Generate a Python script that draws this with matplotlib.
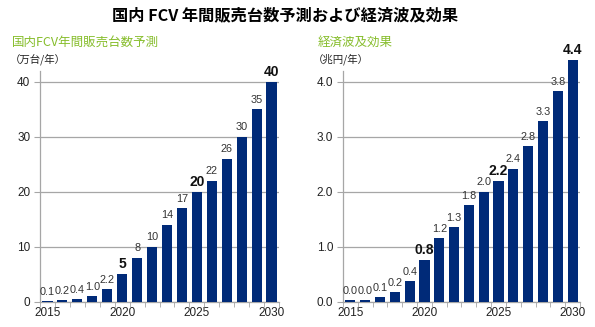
import matplotlib
matplotlib.use("Agg")
import matplotlib.pyplot as plt
from matplotlib.ticker import FixedLocator

plt.rcParams['font.family'] = ['Liberation Sans', 'Noto Sans CJK JP', 'DejaVu Sans']

years = list(range(2015, 2031))
fcv_values = [0.1, 0.2, 0.4, 1.0, 2.2, 5, 8, 10, 14, 17, 20, 22, 26, 30, 35, 40]
fcv_labels = ["0.1", "0.2", "0.4", "1.0", "2.2", "5", "8", "10", "14", "17", "20", "22", "26", "30", "35", "40"]
fcv_bold = [5, 10, 15]
eco_values = [0.02, 0.03, 0.08, 0.17, 0.37, 0.76, 1.16, 1.35, 1.76, 2.0, 2.2, 2.42, 2.83, 3.28, 3.83, 4.4]
eco_labels = ["0.0", "0.0", "0.1", "0.2", "0.4", "0.8", "1.2", "1.3", "1.8", "2.0", "2.2", "2.4", "2.8", "3.3", "3.8", "4.4"]
eco_bold = [5, 10, 15]
xtick_years = [2015, 2020, 2025, 2030]

title = "国内 FCV 年間販売台数予測および経済波及効果"
sub_left = "国内FCV年間販売台数予測"
sub_right = "経済波及効果"
unit_left = "（万台/年）"
unit_right = "（兆円/年）"
yticks_left = [0, 10, 20, 30, 40]
yticks_right = [0.0, 1.0, 2.0, 3.0, 4.0]

BAR = '#002a78'
GRID = '#a6a6a6'
GREEN = '#86bd2b'
W, H = 595, 327
fig = plt.figure(figsize=(W / 100, H / 100), dpi=100)

def panel(x0, x1, values, labels, bold, yticks, ytl, ytop):
    ax = fig.add_axes([x0 / W, (H - 301.5) / H, (x1 - x0) / W, (301.5 - 71) / H])
    xs = list(range(len(values)))
    bars = ax.bar(xs, values, width=0.68, color=BAR, zorder=3)
    for b in bars:
        b.set_clip_on(False)
    ax.set_xlim(-0.5, len(values) - 0.5)
    ax.set_ylim(0, ytop)
    ax.set_yticks(yticks)
    ax.set_yticklabels(ytl, fontsize=8.5, color='#222222')
    ax.yaxis.grid(True, color=GRID, linewidth=0.9, zorder=1)
    ax.tick_params(axis='y', length=4, color=GRID, pad=3)
    pos = [years.index(y) for y in xtick_years]
    ax.set_xticks(pos)
    ax.set_xticklabels([str(y) for y in xtick_years], fontsize=8.5, color='#222222')
    ax.tick_params(axis='x', length=0, pad=4)
    ax.xaxis.set_minor_locator(FixedLocator([i - 0.5 for i in range(len(values) + 1)]))
    ax.tick_params(axis='x', which='minor', length=3.5, color=GRID)
    for s in ['top', 'right']:
        ax.spines[s].set_visible(False)
    for s in ['left', 'bottom']:
        ax.spines[s].set_color(GRID)
        ax.spines[s].set_linewidth(0.9)
    for i, (v, t) in enumerate(zip(values, labels)):
        if i in bold:
            ax.annotate(t, (i, v), xytext=(0, 2), textcoords='offset points',
                        ha='center', va='bottom', fontsize=10, fontweight='bold', color='#111111',
                        annotation_clip=False)
        else:
            ax.annotate(t, (i, v), xytext=(0, 3), textcoords='offset points',
                        ha='center', va='bottom', fontsize=7.8, color='#333333',
                        annotation_clip=False)
    return ax

panel(40, 279, fcv_values, fcv_labels, fcv_bold, yticks_left, [str(v) for v in yticks_left], 41.95)
panel(343, 580, eco_values, eco_labels, eco_bold, yticks_right, [f"{v:.1f}" for v in yticks_right], 4.195)

fig.text(285 / W, 1 - 15 / H, title, ha='center', va='center', fontsize=11.7, fontweight='bold',
         family=['Noto Sans CJK JP', 'DejaVu Sans'])
fig.text(12 / W, 1 - 42 / H, sub_left, ha='left', va='center', fontsize=9, color=GREEN,
         family=['Noto Sans CJK JP', 'DejaVu Sans'])
fig.text(318 / W, 1 - 42 / H, sub_right, ha='left', va='center', fontsize=9, color=GREEN,
         family=['Noto Sans CJK JP', 'DejaVu Sans'])
fig.text(10 / W, 1 - 59 / H, unit_left, ha='left', va='center', fontsize=7.5, color='#222222',
         family=['Noto Sans CJK JP', 'DejaVu Sans'])
fig.text(313 / W, 1 - 59 / H, unit_right, ha='left', va='center', fontsize=7.5, color='#222222',
         family=['Noto Sans CJK JP', 'DejaVu Sans'])

fig.savefig('out.png', dpi=100)
